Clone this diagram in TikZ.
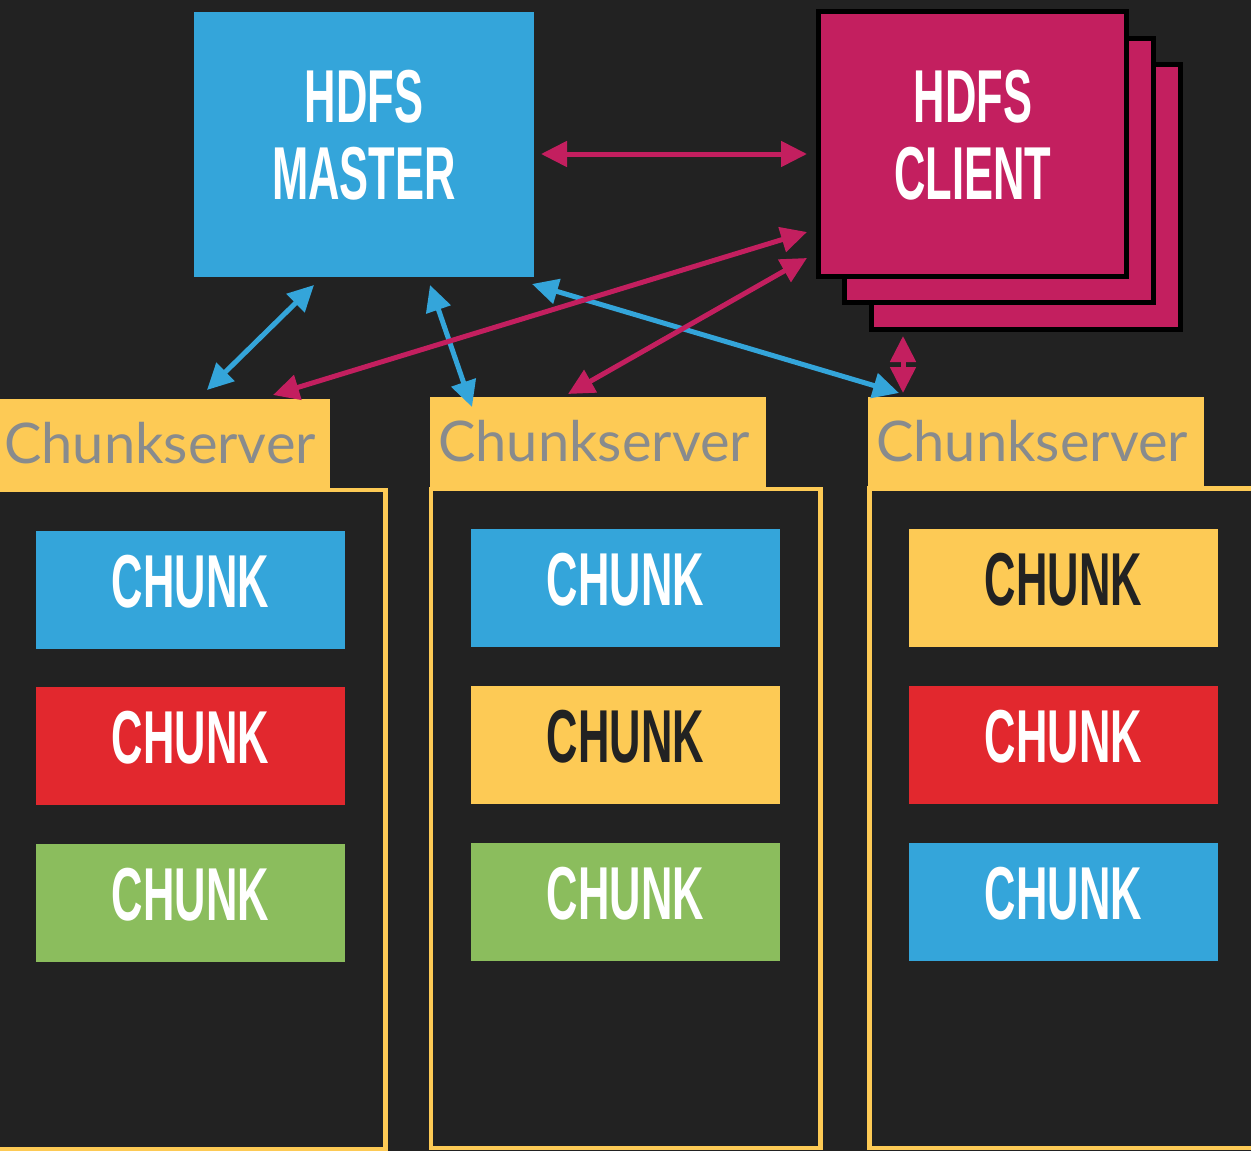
\documentclass[tikz,border=0pt]{standalone}
\usepackage{fontspec}
\usetikzlibrary{arrows.meta}
\newfontfamily\condfont[FakeStretch=0.58]{Liberation Sans Bold}
\newfontfamily\labelfont{Lato}

\definecolor{bgdark}{HTML}{222222}
\definecolor{hblue}{HTML}{34A5DA}
\definecolor{hmagenta}{HTML}{C31F5F}
\definecolor{hred}{HTML}{E2282E}
\definecolor{hgreen}{HTML}{8BBD5D}
\definecolor{hyellow}{HTML}{FDCA55}
\definecolor{hgray}{HTML}{888B8D}

\tikzset{
  x=1pt, y=-1pt,
  bigbox/.style={rectangle, inner sep=0pt, draw=none},
  boxtext/.style={inner sep=0pt, anchor=base, text=white,
    font=\condfont\fontsize{75}{77}\selectfont},
  clientcard/.style={fill=hmagenta, draw=black, line width=5pt},
  chunkbox/.style={rectangle, inner sep=0pt, minimum width=309pt, minimum height=118pt,
    text=white, text height=35pt, text depth=0pt,
    font=\condfont\fontsize{75}{77}\selectfont},
  tab/.style={rectangle, inner sep=0pt, fill=hyellow, anchor=north west},
  tabtext/.style={inner sep=0pt, anchor=base west, text=hgray,
    font=\labelfont\fontsize{56}{60}\selectfont},
  rack/.style={draw=hyellow, line width=4.5pt},
  link/.style={line width=5pt,
    {Triangle[length=26pt,width=25pt]}-{Triangle[length=26pt,width=25pt]}},
}

\begin{document}
\begin{tikzpicture}
% canvas
\useasboundingbox (0,0) rectangle (1251,1151);
\fill[bgdark] (0,0) rectangle (1251,1151);

% master
\node[bigbox, fill=hblue, minimum width=340pt, minimum height=265pt] (master) at (364,144.5) {};
\node[boxtext] (masterA) at (364,122) {HDFS};
\node[boxtext] (masterB) at (364,199) {MASTER};

% client stack (back cards first)
\draw[clientcard] (871.5,64.5) rectangle (1180.5,329.5);
\draw[clientcard] (844.5,38.5) rectangle (1153.5,302.5);
\node[bigbox, clientcard, minimum width=308pt, minimum height=265pt] (client) at (972.5,144) {};
\node[boxtext] (clientA) at (973,122) {HDFS};
\node[boxtext] (clientB) at (973,199) {CLIENT};

% chunkserver racks
\draw[rack] (-5,490) rectangle (385.5,1149);
\draw[rack] (431,489) rectangle (820.5,1148);
\draw[rack] (869.5,488.5) rectangle (1260,1148);

\node[tab, minimum width=330pt, minimum height=89pt] (tabA) at (0,399) {};
\node[tab, minimum width=336pt, minimum height=90pt] (tabB) at (430,397) {};
\node[tab, minimum width=336pt, minimum height=89pt] (tabC) at (868,397) {};
\node[tabtext] (tabAtext) at (4,463) {Chunkserver};
\node[tabtext] (tabBtext) at (438,461) {Chunkserver};
\node[tabtext] (tabCtext) at (876,461) {Chunkserver};

% chunks
\node[chunkbox, fill=hblue]   (a1) at (190.5,589.5) {CHUNK};
\node[chunkbox, fill=hred]    (a2) at (190.5,745.5) {CHUNK};
\node[chunkbox, fill=hgreen]  (a3) at (190.5,902.5) {CHUNK};
\node[chunkbox, fill=hblue]   (b1) at (625.5,587.5) {CHUNK};
\node[chunkbox, fill=hyellow, text=bgdark] (b2) at (625.5,744.5) {CHUNK};
\node[chunkbox, fill=hgreen]  (b3) at (625.5,901.5) {CHUNK};
\node[chunkbox, fill=hyellow, text=bgdark] (c1) at (1063.5,587.5) {CHUNK};
\node[chunkbox, fill=hred]    (c2) at (1063.5,744.5) {CHUNK};
\node[chunkbox, fill=hblue]   (c3) at (1063.5,901.5) {CHUNK};

% connector end points
\coordinate (mR)  at (541,154);
\coordinate (cL)  at (807,154);
\coordinate (cA)  at (807,232);
\coordinate (cB)  at (807,258);
\coordinate (cC)  at (903,336);
\coordinate (sA1) at (273,395);
\coordinate (sB1) at (568,394);
\coordinate (sC1) at (903,393);
\coordinate (mA)  at (314,285);
\coordinate (mB)  at (430,285);
\coordinate (mC)  at (532,284);
\coordinate (sA2) at (207,390);
\coordinate (sB2) at (472,407);
\coordinate (sC2) at (899,393);

% master <-> chunkservers
\draw[link, hblue] (mA) -- (sA2);
\draw[link, hblue] (mB) -- (sB2);
\draw[link, hblue] (mC) -- (sC2);

% client <-> master, client <-> chunkservers
\draw[link, hmagenta] (mR) -- (cL);
\draw[link, hmagenta] (cA) -- (sA1);
\draw[link, hmagenta] (cB) -- (sB1);
\draw[link, hmagenta] (cC) -- (sC1);
\end{tikzpicture}
\end{document}
